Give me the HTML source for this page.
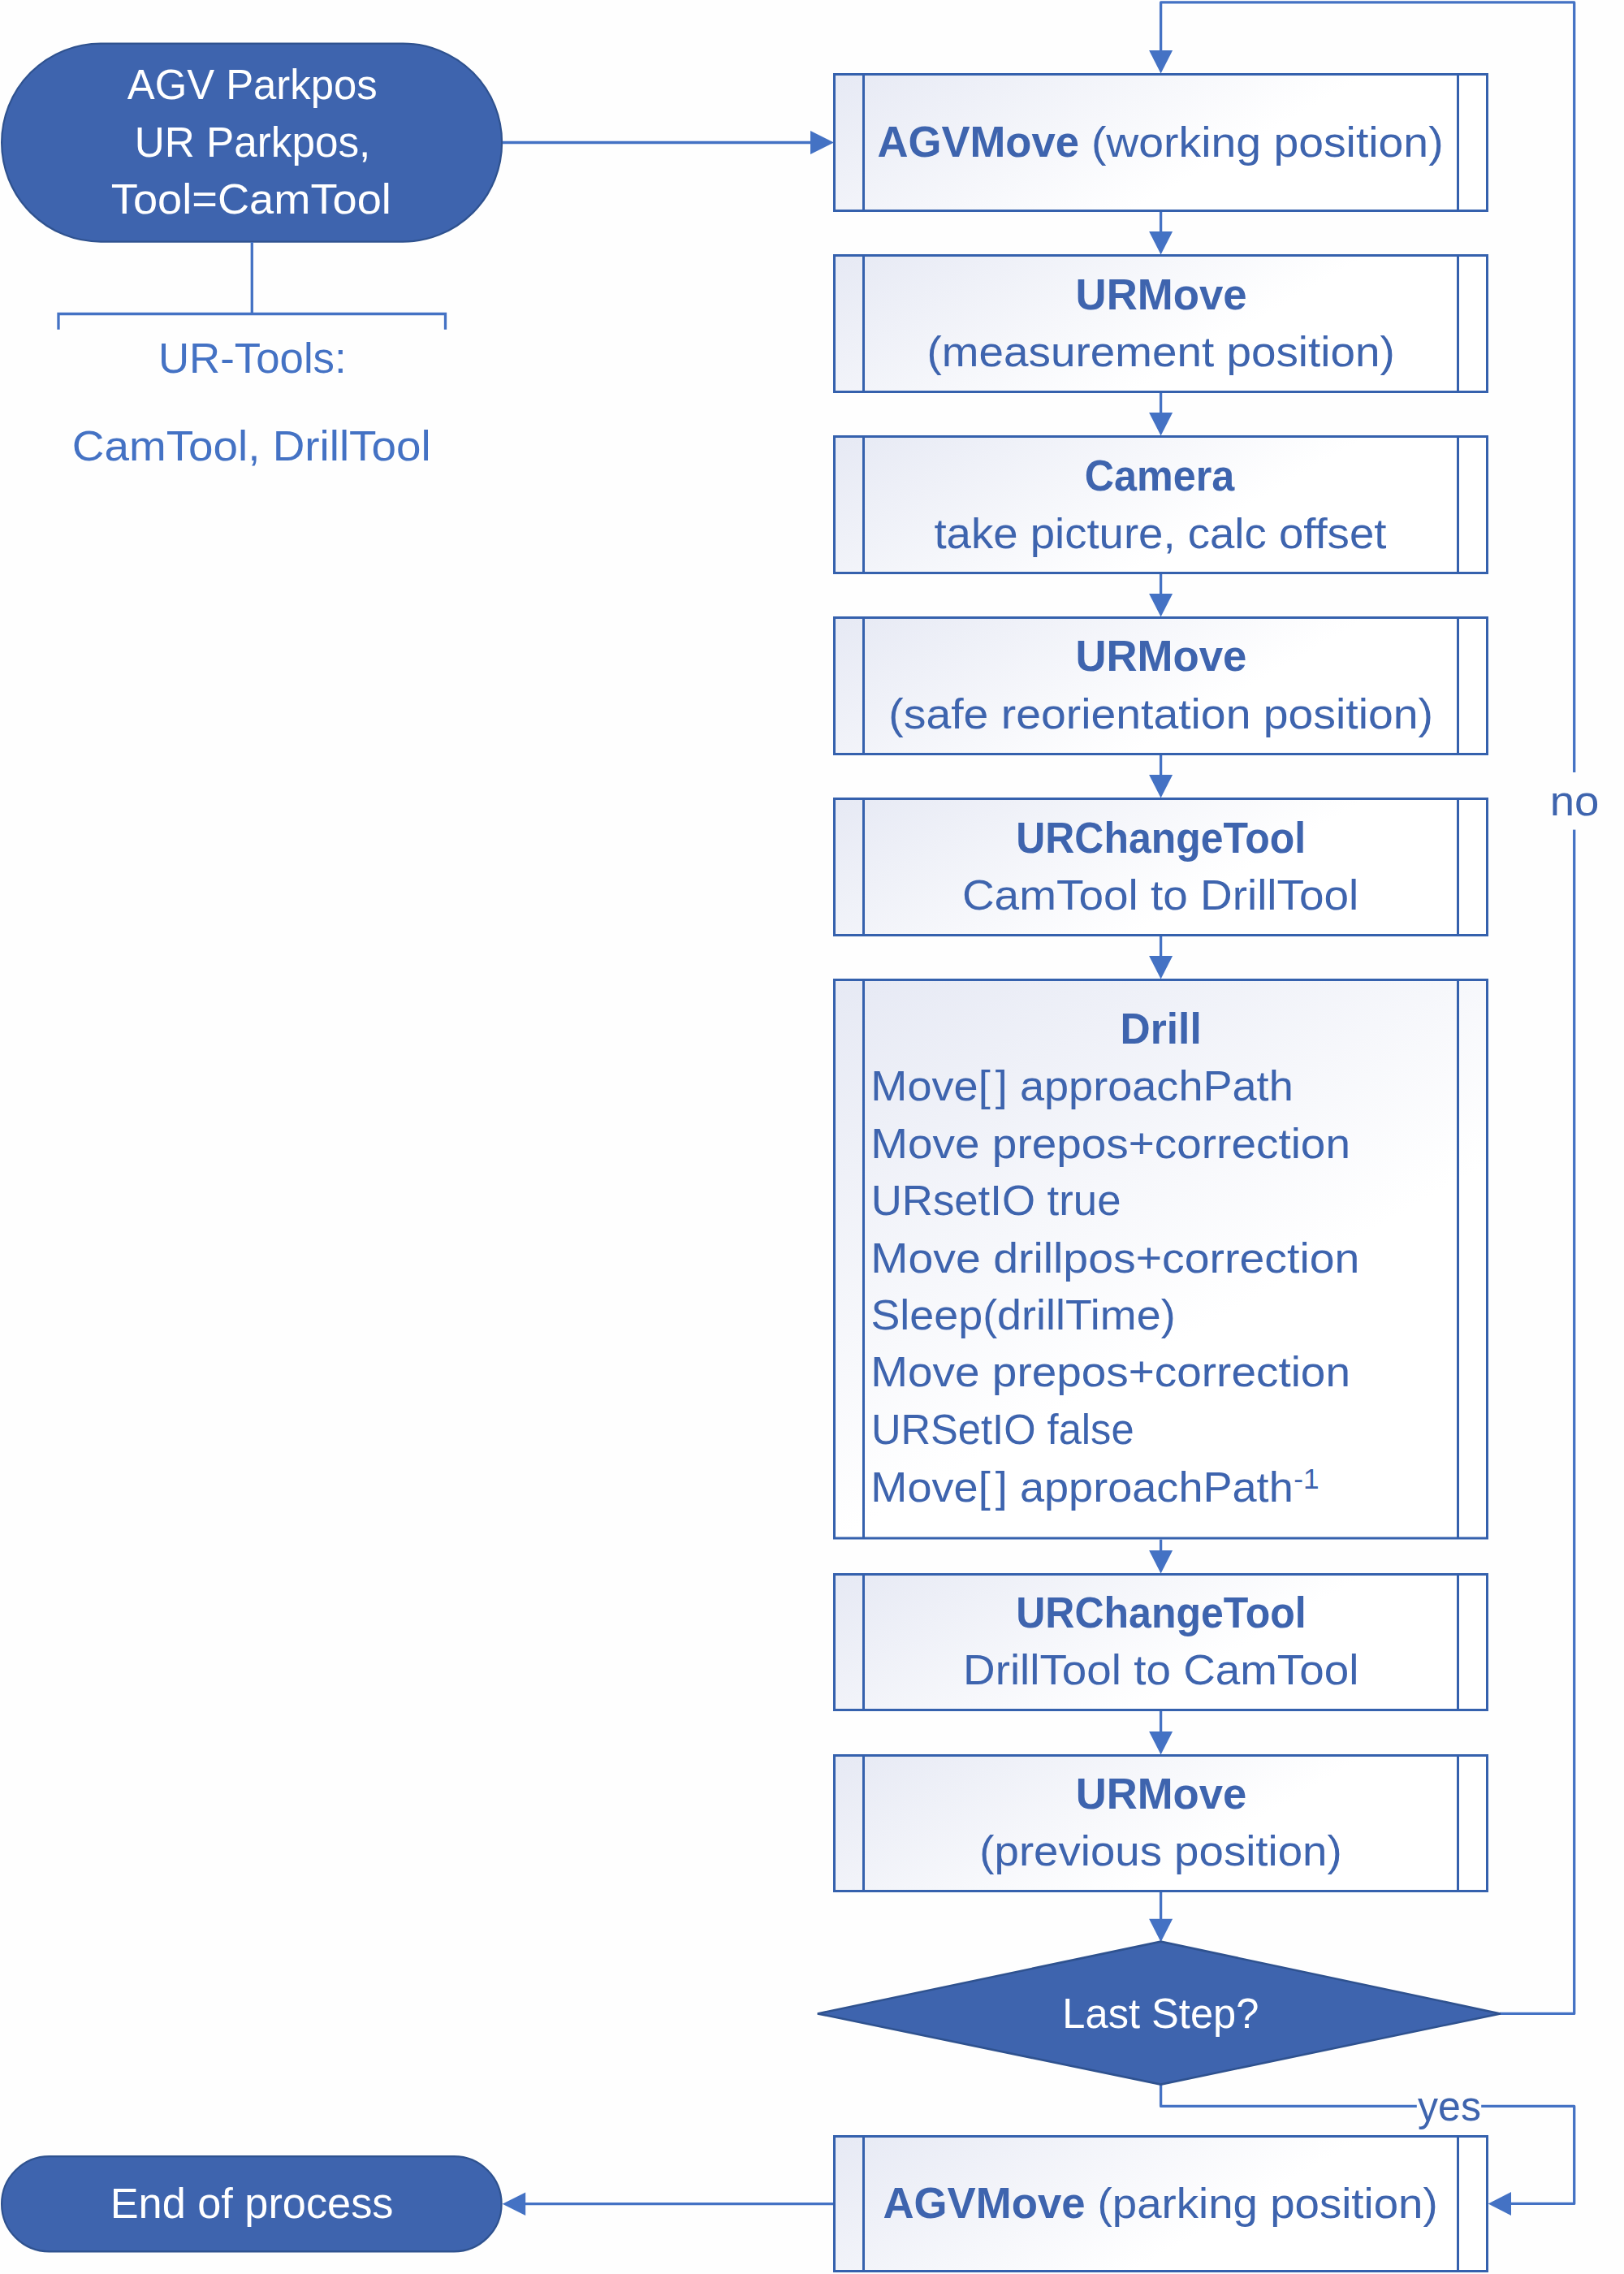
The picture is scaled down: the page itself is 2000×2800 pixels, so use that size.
<!DOCTYPE html>
<html><head><meta charset="utf-8"><title>Flowchart</title>
<style>html,body{margin:0;padding:0;background:#FEFEFE;} svg text{font-family:"Liberation Sans", sans-serif;}</style>
</head><body>
<svg width="2000" height="2800" viewBox="0 0 2000 2800" style="display:block">
<defs>
<linearGradient id="g0" gradientUnits="userSpaceOnUse" x1="1026" y1="90" x2="1301.8" y2="567.7"><stop offset="0" stop-color="#E6E9F4"/><stop offset="0.6" stop-color="#FFFFFF"/><stop offset="1" stop-color="#FFFFFF"/></linearGradient><linearGradient id="g1" gradientUnits="userSpaceOnUse" x1="1026" y1="313" x2="1301.8" y2="790.7"><stop offset="0" stop-color="#E6E9F4"/><stop offset="0.6" stop-color="#FFFFFF"/><stop offset="1" stop-color="#FFFFFF"/></linearGradient><linearGradient id="g2" gradientUnits="userSpaceOnUse" x1="1026" y1="536" x2="1301.8" y2="1013.7"><stop offset="0" stop-color="#E6E9F4"/><stop offset="0.6" stop-color="#FFFFFF"/><stop offset="1" stop-color="#FFFFFF"/></linearGradient><linearGradient id="g3" gradientUnits="userSpaceOnUse" x1="1026" y1="759" x2="1301.8" y2="1236.7"><stop offset="0" stop-color="#E6E9F4"/><stop offset="0.6" stop-color="#FFFFFF"/><stop offset="1" stop-color="#FFFFFF"/></linearGradient><linearGradient id="g4" gradientUnits="userSpaceOnUse" x1="1026" y1="982" x2="1301.8" y2="1459.7"><stop offset="0" stop-color="#E6E9F4"/><stop offset="0.6" stop-color="#FFFFFF"/><stop offset="1" stop-color="#FFFFFF"/></linearGradient><linearGradient id="g5" gradientUnits="userSpaceOnUse" x1="1026" y1="1205" x2="1526.7" y2="2072.3"><stop offset="0" stop-color="#E6E9F4"/><stop offset="0.6" stop-color="#FFFFFF"/><stop offset="1" stop-color="#FFFFFF"/></linearGradient><linearGradient id="g6" gradientUnits="userSpaceOnUse" x1="1026" y1="1937" x2="1301.4" y2="2413.9"><stop offset="0" stop-color="#E6E9F4"/><stop offset="0.6" stop-color="#FFFFFF"/><stop offset="1" stop-color="#FFFFFF"/></linearGradient><linearGradient id="g7" gradientUnits="userSpaceOnUse" x1="1026" y1="2160" x2="1301.4" y2="2636.9"><stop offset="0" stop-color="#E6E9F4"/><stop offset="0.6" stop-color="#FFFFFF"/><stop offset="1" stop-color="#FFFFFF"/></linearGradient><linearGradient id="g8" gradientUnits="userSpaceOnUse" x1="1026" y1="2629" x2="1300.9" y2="3105.2"><stop offset="0" stop-color="#E6E9F4"/><stop offset="0.6" stop-color="#FFFFFF"/><stop offset="1" stop-color="#FFFFFF"/></linearGradient>
</defs>
<rect width="2000" height="2800" fill="#FEFEFE"/>
<!-- start terminator -->
<rect x="2.1" y="53.6" width="616" height="244" rx="122" ry="122" fill="#3E64AE" stroke="#2F528F" stroke-width="2.2"/>
<!-- start -> box1 -->
<line x1="619" y1="175.5" x2="1000" y2="175.5" stroke="#4472C4" stroke-width="3.3"/>
<polygon points="998,161 1027,175.5 998,190" fill="#4472C4"/>
<!-- tools bracket -->
<line x1="310.3" y1="298" x2="310.3" y2="386.5" stroke="#4472C4" stroke-width="3.3"/>
<path d="M72,405.7 V386.5 H548.5 V405.7" fill="none" stroke="#4472C4" stroke-width="3.3"/>
<!-- loop -->
<path d="M1847,2479.4 H1938.7 V2.9 H1429.6 V64" fill="none" stroke="#4472C4" stroke-width="3.3" stroke-linejoin="round"/>
<polygon points="1415.1,62 1444.1,62 1429.6,90.5" fill="#4472C4"/>
<!-- yes path -->
<path d="M1429.6,2566 V2593.4 H1938.7 V2713.4 H1860" fill="none" stroke="#4472C4" stroke-width="3.3" stroke-linejoin="round"/>
<polygon points="1861,2699 1832.7,2713.5 1861,2728" fill="#4472C4"/>
<!-- box9 -> end -->
<line x1="1026" y1="2713.6" x2="646" y2="2713.6" stroke="#4472C4" stroke-width="3.3"/>
<polygon points="647.2,2699.5 618.7,2713.7 647.2,2728" fill="#4472C4"/>
<rect x="1027.5" y="91.5" width="804" height="168.0" fill="url(#g0)" stroke="#3561AD" stroke-width="3"/><line x1="1063.5" y1="91.5" x2="1063.5" y2="259.5" stroke="#3561AD" stroke-width="3"/><line x1="1795.5" y1="91.5" x2="1795.5" y2="259.5" stroke="#3561AD" stroke-width="3"/><rect x="1027.5" y="314.5" width="804" height="168.0" fill="url(#g1)" stroke="#3561AD" stroke-width="3"/><line x1="1063.5" y1="314.5" x2="1063.5" y2="482.5" stroke="#3561AD" stroke-width="3"/><line x1="1795.5" y1="314.5" x2="1795.5" y2="482.5" stroke="#3561AD" stroke-width="3"/><rect x="1027.5" y="537.5" width="804" height="168.0" fill="url(#g2)" stroke="#3561AD" stroke-width="3"/><line x1="1063.5" y1="537.5" x2="1063.5" y2="705.5" stroke="#3561AD" stroke-width="3"/><line x1="1795.5" y1="537.5" x2="1795.5" y2="705.5" stroke="#3561AD" stroke-width="3"/><rect x="1027.5" y="760.5" width="804" height="168.0" fill="url(#g3)" stroke="#3561AD" stroke-width="3"/><line x1="1063.5" y1="760.5" x2="1063.5" y2="928.5" stroke="#3561AD" stroke-width="3"/><line x1="1795.5" y1="760.5" x2="1795.5" y2="928.5" stroke="#3561AD" stroke-width="3"/><rect x="1027.5" y="983.5" width="804" height="168.0" fill="url(#g4)" stroke="#3561AD" stroke-width="3"/><line x1="1063.5" y1="983.5" x2="1063.5" y2="1151.5" stroke="#3561AD" stroke-width="3"/><line x1="1795.5" y1="983.5" x2="1795.5" y2="1151.5" stroke="#3561AD" stroke-width="3"/><rect x="1027.5" y="1206.5" width="804" height="687.5" fill="url(#g5)" stroke="#3561AD" stroke-width="3"/><line x1="1063.5" y1="1206.5" x2="1063.5" y2="1894.0" stroke="#3561AD" stroke-width="3"/><line x1="1795.5" y1="1206.5" x2="1795.5" y2="1894.0" stroke="#3561AD" stroke-width="3"/><rect x="1027.5" y="1938.5" width="804" height="167.0" fill="url(#g6)" stroke="#3561AD" stroke-width="3"/><line x1="1063.5" y1="1938.5" x2="1063.5" y2="2105.5" stroke="#3561AD" stroke-width="3"/><line x1="1795.5" y1="1938.5" x2="1795.5" y2="2105.5" stroke="#3561AD" stroke-width="3"/><rect x="1027.5" y="2161.5" width="804" height="167.0" fill="url(#g7)" stroke="#3561AD" stroke-width="3"/><line x1="1063.5" y1="2161.5" x2="1063.5" y2="2328.5" stroke="#3561AD" stroke-width="3"/><line x1="1795.5" y1="2161.5" x2="1795.5" y2="2328.5" stroke="#3561AD" stroke-width="3"/><rect x="1027.5" y="2630.5" width="804" height="166.0" fill="url(#g8)" stroke="#3561AD" stroke-width="3"/><line x1="1063.5" y1="2630.5" x2="1063.5" y2="2796.5" stroke="#3561AD" stroke-width="3"/><line x1="1795.5" y1="2630.5" x2="1795.5" y2="2796.5" stroke="#3561AD" stroke-width="3"/><line x1="1429.6" y1="261" x2="1429.6" y2="286.1" stroke="#4472C4" stroke-width="3.3"/><polygon points="1415.1,285.1 1444.1,285.1 1429.6,313.6" fill="#4472C4"/><line x1="1429.6" y1="484" x2="1429.6" y2="509.1" stroke="#4472C4" stroke-width="3.3"/><polygon points="1415.1,508.1 1444.1,508.1 1429.6,536.6" fill="#4472C4"/><line x1="1429.6" y1="707" x2="1429.6" y2="732.1" stroke="#4472C4" stroke-width="3.3"/><polygon points="1415.1,731.1 1444.1,731.1 1429.6,759.6" fill="#4472C4"/><line x1="1429.6" y1="930" x2="1429.6" y2="955.1" stroke="#4472C4" stroke-width="3.3"/><polygon points="1415.1,954.1 1444.1,954.1 1429.6,982.6" fill="#4472C4"/><line x1="1429.6" y1="1153" x2="1429.6" y2="1178.1" stroke="#4472C4" stroke-width="3.3"/><polygon points="1415.1,1177.1 1444.1,1177.1 1429.6,1205.6" fill="#4472C4"/><line x1="1429.6" y1="1895.5" x2="1429.6" y2="1910.1" stroke="#4472C4" stroke-width="3.3"/><polygon points="1415.1,1909.1 1444.1,1909.1 1429.6,1937.6" fill="#4472C4"/><line x1="1429.6" y1="2107" x2="1429.6" y2="2133.1" stroke="#4472C4" stroke-width="3.3"/><polygon points="1415.1,2132.1 1444.1,2132.1 1429.6,2160.6" fill="#4472C4"/><line x1="1429.6" y1="2330" x2="1429.6" y2="2363.7999999999997" stroke="#4472C4" stroke-width="3.3"/><polygon points="1415.1,2362.7999999999997 1444.1,2362.7999999999997 1429.6,2391.2999999999997" fill="#4472C4"/>
<!-- diamond -->
<polygon points="1006.8,2479.4 1429.6,2390.7 1847.8,2479.4 1429.6,2566.6" fill="#3E64AE" stroke="#2F528F" stroke-width="2.6" stroke-linejoin="miter"/>
<!-- end terminator -->
<rect x="2.1" y="2655.1" width="615.5" height="117.2" rx="58.6" ry="58.6" fill="#3E64AE" stroke="#2F528F" stroke-width="2.2"/>
<!-- label backgrounds -->
<rect x="1905" y="951" width="70" height="70.6" fill="#FEFEFE"/>
<rect x="1744.8" y="2580" width="79.4" height="27" fill="#FEFEFE"/>
<g font-family="Liberation Sans">
<text transform="translate(156.75,121.90) scale(0.9684,1)" font-size="52.50" font-weight="normal" fill="#FFFFFF">AGV Parkpos</text>
<text transform="translate(165.76,192.80) scale(0.9764,1)" font-size="52.50" font-weight="normal" fill="#FFFFFF">UR Parkpos,</text>
<text transform="translate(136.84,263.00) scale(1.0330,1)" font-size="52.50" font-weight="normal" fill="#FFFFFF">Tool=CamTool</text>
<text transform="translate(194.94,459.00) scale(1.0058,1)" font-size="52.50" font-weight="normal" fill="#4472C4">UR-Tools:</text>
<text transform="translate(88.86,567.00) scale(1.0447,1)" font-size="52.50" font-weight="normal" fill="#4472C4">CamTool, DrillTool</text>
<text transform="translate(1080.48,192.80) scale(0.9837,1)" font-size="53.50" font-weight="bold" fill="#3E64AE">AGVMove</text>
<text transform="translate(1343.88,192.80) scale(1.0542,1)" font-size="52.50" font-weight="normal" fill="#3E64AE">(working position)</text>
<text transform="translate(1324.53,380.60) scale(0.9870,1)" font-size="53.50" font-weight="bold" fill="#3E64AE">URMove</text>
<text transform="translate(1141.51,451.00) scale(1.0451,1)" font-size="52.50" font-weight="normal" fill="#3E64AE">(measurement position)</text>
<text transform="translate(1335.79,603.60) scale(0.9395,1)" font-size="53.50" font-weight="bold" fill="#3E64AE">Camera</text>
<text transform="translate(1150.38,674.70) scale(1.0396,1)" font-size="52.50" font-weight="normal" fill="#3E64AE">take picture, calc offset</text>
<text transform="translate(1324.43,826.40) scale(0.9860,1)" font-size="53.50" font-weight="bold" fill="#3E64AE">URMove</text>
<text transform="translate(1094.28,896.90) scale(1.0546,1)" font-size="52.50" font-weight="normal" fill="#3E64AE">(safe reorientation position)</text>
<text transform="translate(1251.20,1049.50) scale(0.9339,1)" font-size="53.50" font-weight="bold" fill="#3E64AE">URChangeTool</text>
<text transform="translate(1184.95,1119.60) scale(1.0465,1)" font-size="52.50" font-weight="normal" fill="#3E64AE">CamTool to DrillTool</text>
<text transform="translate(1379.55,1285.00) scale(0.9625,1)" font-size="53.50" font-weight="bold" fill="#3E64AE">Drill</text>
<text transform="translate(1072.37,1355.30) scale(1.0305,1)" font-size="52.50" font-weight="normal" fill="#3E64AE">Move[<tspan dx="6">]</tspan> approachPath</text>
<text transform="translate(1072.31,1425.70) scale(1.0461,1)" font-size="52.50" font-weight="normal" fill="#3E64AE">Move prepos+correction</text>
<text transform="translate(1072.74,1496.10) scale(1.0049,1)" font-size="52.50" font-weight="normal" fill="#3E64AE">URsetIO true</text>
<text transform="translate(1072.27,1566.50) scale(1.0558,1)" font-size="52.50" font-weight="normal" fill="#3E64AE">Move drillpos+correction</text>
<text transform="translate(1072.38,1636.90) scale(1.0264,1)" font-size="52.50" font-weight="normal" fill="#3E64AE">Sleep(drillTime)</text>
<text transform="translate(1072.31,1707.30) scale(1.0461,1)" font-size="52.50" font-weight="normal" fill="#3E64AE">Move prepos+correction</text>
<text transform="translate(1072.90,1777.70) scale(0.9648,1)" font-size="52.50" font-weight="normal" fill="#3E64AE">URSetIO false</text>
<text transform="translate(1072.37,1848.50) scale(1.0305,1)" font-size="52.50" font-weight="normal" fill="#3E64AE">Move[<tspan dx="6">]</tspan> approachPath</text>
<text transform="translate(1593.22,1832.60) scale(0.9921,1)" font-size="35.50" font-weight="normal" fill="#3E64AE">-1</text>
<text transform="translate(1251.20,2003.80) scale(0.9350,1)" font-size="53.50" font-weight="bold" fill="#3E64AE">URChangeTool</text>
<text transform="translate(1186.12,2074.00) scale(1.0440,1)" font-size="52.50" font-weight="normal" fill="#3E64AE">DrillTool to CamTool</text>
<text transform="translate(1324.64,2226.60) scale(0.9841,1)" font-size="53.50" font-weight="bold" fill="#3E64AE">URMove</text>
<text transform="translate(1206.32,2297.00) scale(1.0406,1)" font-size="52.50" font-weight="normal" fill="#3E64AE">(previous position)</text>
<text transform="translate(1308.35,2496.60) scale(0.9644,1)" font-size="52.50" font-weight="normal" fill="#FFFFFF">Last Step?</text>
<text transform="translate(1908.65,1003.70) scale(1.0405,1)" font-size="52.50" font-weight="normal" fill="#3E64AE">no</text>
<text transform="translate(1746.05,2610.50) scale(0.9543,1)" font-size="52.50" font-weight="normal" fill="#3E64AE">yes</text>
<text transform="translate(1087.48,2730.50) scale(0.9861,1)" font-size="53.50" font-weight="bold" fill="#3E64AE">AGVMove</text>
<text transform="translate(1351.62,2730.50) scale(1.0407,1)" font-size="52.50" font-weight="normal" fill="#3E64AE">(parking position)</text>
<text transform="translate(135.72,2731.30) scale(0.9961,1)" font-size="52.50" font-weight="normal" fill="#FFFFFF">End of process</text>
</g>
</svg>
</body></html>
